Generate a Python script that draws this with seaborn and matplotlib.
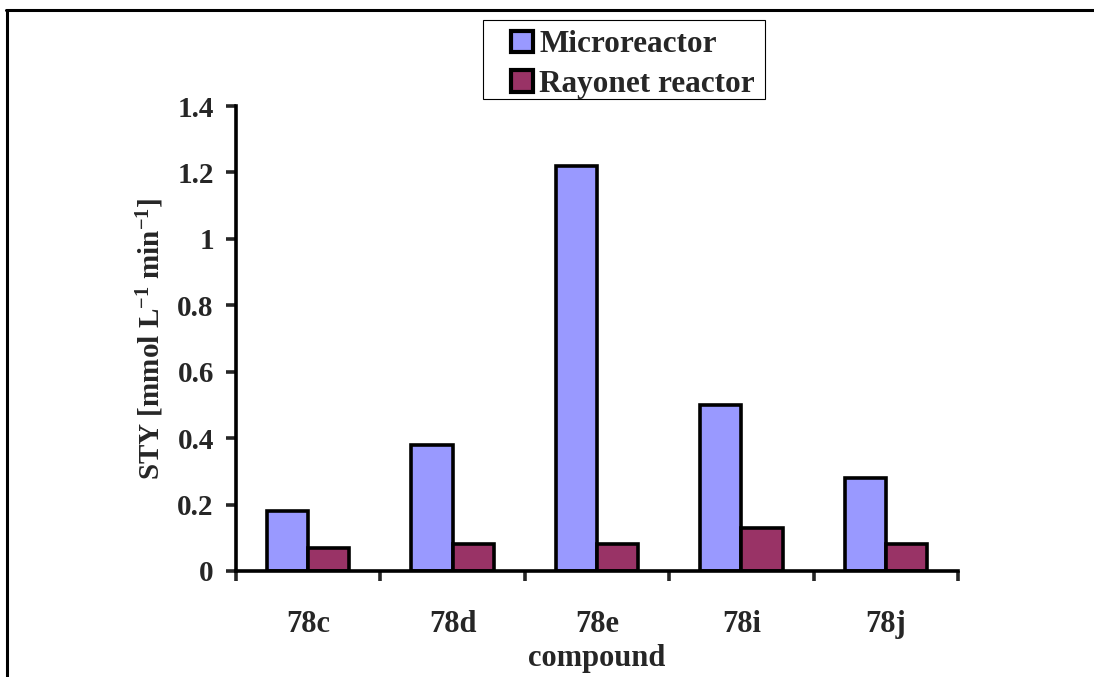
import pandas as pd
import numpy as np
import seaborn as sns
import matplotlib.pyplot as plt
from matplotlib.lines import Line2D
from matplotlib.patches import Rectangle
from matplotlib.ticker import FixedLocator

compounds = ['78c', '78d', '78e', '78i', '78j']
microreactor = [0.18, 0.38, 1.22, 0.50, 0.28]
rayonet = [0.07, 0.08, 0.08, 0.13, 0.08]
series = ['Microreactor', 'Rayonet reactor']
colores = ['#9999FF', '#993366']

df = pd.DataFrame({
    'compound': compounds * 2,
    'STY': microreactor + rayonet,
    'reactor': [series[0]] * len(compounds) + [series[1]] * len(compounds),
})

sns.set_style('white')
plt.rcParams['font.family'] = ['Liberation Serif', 'DejaVu Serif']
plt.rcParams['font.weight'] = 'bold'
plt.rcParams['mathtext.fontset'] = 'custom'
plt.rcParams['mathtext.rm'] = 'Liberation Serif:bold'
plt.rcParams['mathtext.bf'] = 'Liberation Serif:bold'
plt.rcParams['mathtext.default'] = 'bf'

fig = plt.figure(figsize=(10.94, 6.77), dpi=100)
ax = fig.add_axes([0.2157, 0.1566, 0.66, 0.6868])

sns.barplot(data=df, x='compound', y='STY', hue='reactor', palette=colores,
            width=0.57, edgecolor='black', linewidth=2.6, saturation=1,
            legend=False, ax=ax)

ax.set_xlim(-0.5, len(compounds) - 0.5)
ax.set_ylim(0, 1.4)
ax.set_yticks(np.arange(0, 1.41, 0.2))
ax.set_yticklabels(['0', '0.2', '0.4', '0.6', '0.8', '1', '1.2', '1.4'])
ax.xaxis.set_minor_locator(FixedLocator(np.arange(-0.5, len(compounds), 1.0)))

ax.tick_params(axis='y', which='major', direction='out', length=7, width=2.6,
               pad=9, labelsize=21, left=True)
ax.tick_params(axis='x', which='major', length=0, pad=28, labelsize=22)
ax.tick_params(axis='x', which='minor', direction='out', length=7, width=2.6,
               bottom=True)

sns.despine(ax=ax)
for s in ['left', 'bottom']:
    ax.spines[s].set_linewidth(2.6)
    ax.spines[s].set_color('black')

ax.set_xlabel('compound', fontsize=22, fontweight='bold', labelpad=4)
ax.set_ylabel('STY [mmol L$^{-1}$ min$^{-1}$]', fontsize=21, fontweight='bold',
              labelpad=8)

# leyenda sin marco, el marco se dibuja aparte (más ancho a la derecha)
handles = [plt.Rectangle((0, 0), 1, 1, facecolor=c, edgecolor='black', linewidth=3)
           for c in colores]
leg = fig.legend(handles, series, loc='upper left', bbox_to_anchor=(0.467, 0.955),
                 borderaxespad=0, fontsize=22.5, frameon=False,
                 handlelength=0.7, handleheight=0.7, handletextpad=0.2,
                 labelspacing=0.33, borderpad=0.0)
fig.add_artist(Rectangle((0.4415, 0.8538), 0.2576, 0.1167, transform=fig.transFigure,
                         facecolor='none', edgecolor='black', linewidth=0.8))

# borde de la figura (arriba e izquierda)
fig.add_artist(Line2D([0.0055, 1.0], [0.985, 0.985], color='black', linewidth=2.2,
                      transform=fig.transFigure))
fig.add_artist(Line2D([0.0064, 0.0064], [0.0, 0.985], color='black', linewidth=2.2,
                      transform=fig.transFigure))

plt.savefig('out.png', dpi=100)
plt.close('all')
